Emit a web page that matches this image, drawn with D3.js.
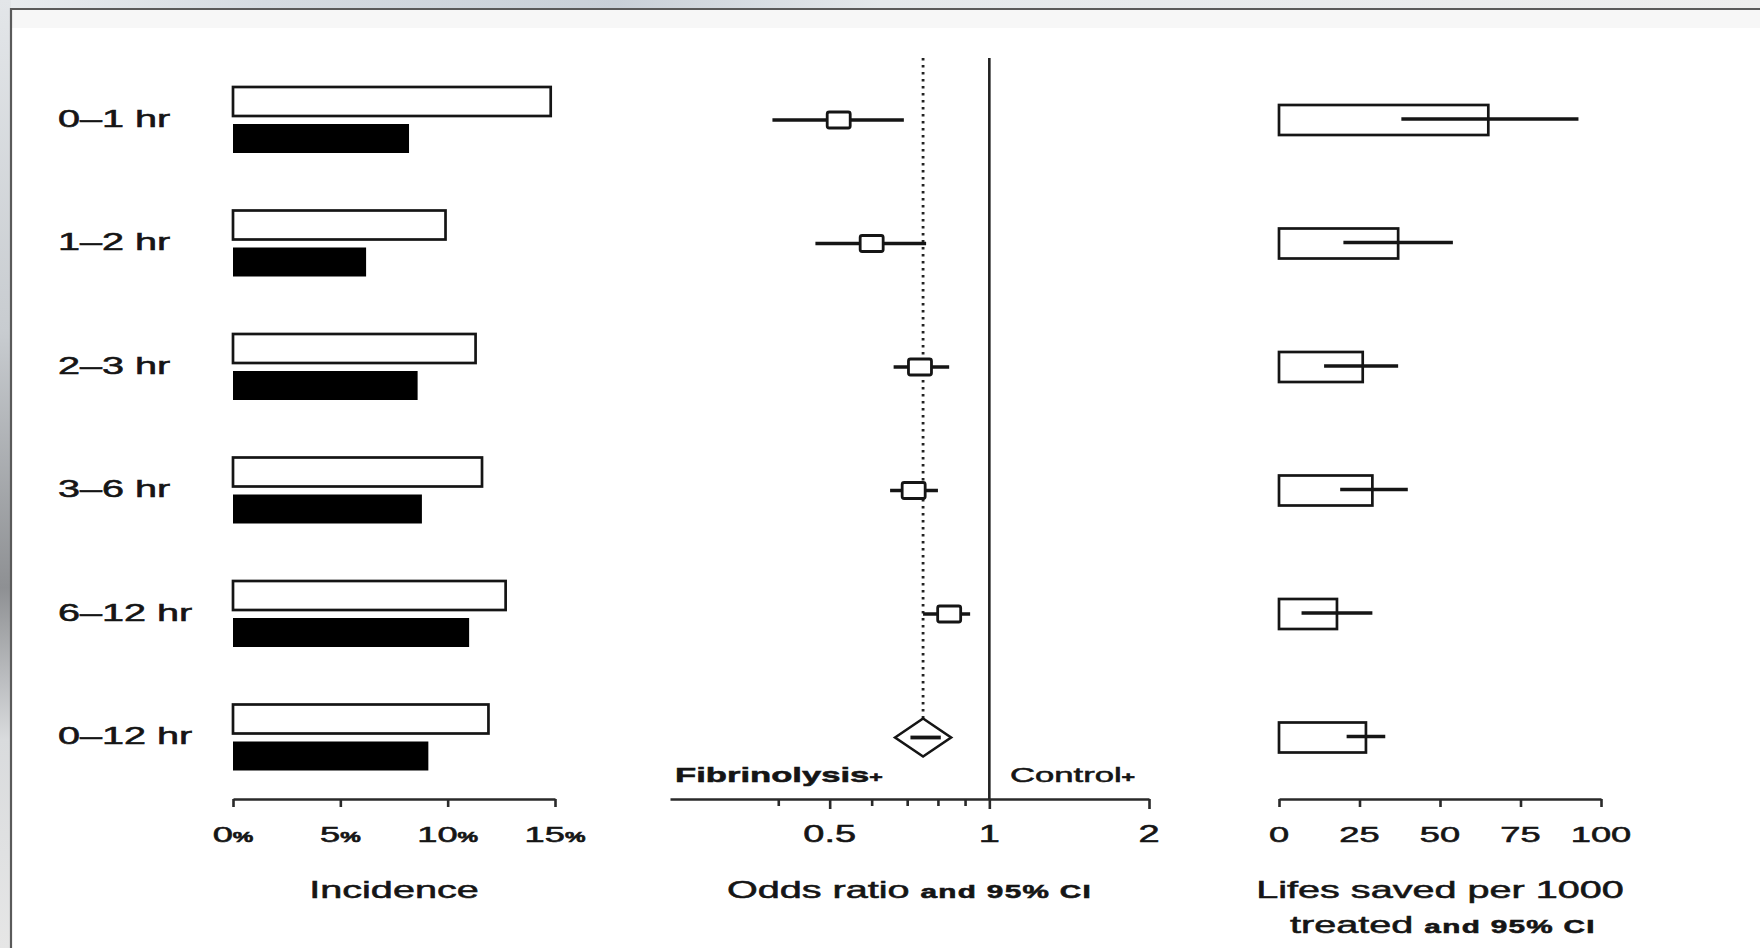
<!DOCTYPE html>
<html>
<head>
<meta charset="utf-8">
<script src="https://cdn.jsdelivr.net/npm/d3@7"></script>
<style>
  html, body { margin: 0; padding: 0; background: #eceff1; }
  svg { display: block; }
  text { font-family: "Liberation Sans", Arial, Helvetica, sans-serif; fill: #151515; stroke: #151515; stroke-width: 0.55px; }
</style>
</head>
<body>
<svg id="chart" width="1760" height="948"></svg>
<script>
// Time from symptom onset to treatment
const categories = ["0–1 hr", "1–2 hr", "2–3 hr", "3–6 hr", "6–12 hr", "0–12 hr"];

// Mortality incidence (%) per group
const incidenceControl      = [14.8, 9.9, 11.3, 11.6, 12.7, 11.9];
const incidenceFibrinolysis = [8.2, 6.2, 8.6, 8.8, 11.0, 9.1];

// Odds ratios with 95% confidence limits (last row = pooled estimate)
const oddsRatio = [0.52, 0.60, 0.74, 0.72, 0.84, 0.75];
const oddsLower = [0.39, 0.47, 0.66, 0.65, 0.75, 0.71];
const oddsUpper = [0.69, 0.76, 0.84, 0.80, 0.92, 0.81];

// Lives saved per 1000 treated with 95% confidence limits
const livesSaved = [65, 37, 26, 29, 18, 27];
const livesLower = [38, 20, 14, 19, 7, 21];
const livesUpper = [93, 54, 37, 40, 29, 33];

// Axis ticks
const incidenceTicks = [0, 5, 10, 15];
const oddsMajorTicks = [0.5, 1, 2];
const oddsMinorTicks = [0.4, 0.6, 0.7, 0.8, 0.9];
const livesTicks = [0, 25, 50, 75, 100];

const SX = 1.65;          // horizontal stretch of the lettering
const INK = "#151515";
const axisY = 799;

const svg = d3.select("#chart");

// ---- backdrop and frame ----
const defs = svg.append("defs");
const gTop = defs.append("linearGradient").attr("id", "topStrip").attr("x1", 0).attr("x2", 1).attr("y1", 0).attr("y2", 0);
gTop.append("stop").attr("offset", "0").attr("stop-color", "#e9ecef");
gTop.append("stop").attr("offset", "0.15").attr("stop-color", "#d5dbe1");
gTop.append("stop").attr("offset", "0.35").attr("stop-color", "#c9d0d8");
gTop.append("stop").attr("offset", "0.5").attr("stop-color", "#e4e8eb");
gTop.append("stop").attr("offset", "1").attr("stop-color", "#eeeeee");
const gLeft = defs.append("linearGradient").attr("id", "leftStrip").attr("x1", 0).attr("x2", 0).attr("y1", 0).attr("y2", 1);
gLeft.append("stop").attr("offset", "0").attr("stop-color", "#e3e6e9");
gLeft.append("stop").attr("offset", "0.35").attr("stop-color", "#c8ccd0");
gLeft.append("stop").attr("offset", "0.62").attr("stop-color", "#8e9093");
gLeft.append("stop").attr("offset", "0.78").attr("stop-color", "#d9dbdd");
gLeft.append("stop").attr("offset", "1").attr("stop-color", "#e6e6e6");

svg.append("rect").attr("x", 0).attr("y", 0).attr("width", 1760).attr("height", 948).attr("fill", "url(#topStrip)");
svg.append("rect").attr("x", 0).attr("y", 0).attr("width", 11).attr("height", 948).attr("fill", "url(#leftStrip)");
svg.append("rect").attr("x", 11).attr("y", 9).attr("width", 1760).attr("height", 960).attr("fill", "#ffffff");
svg.append("rect").attr("x", 12).attr("y", 10).attr("width", 1760).attr("height", 18).attr("fill", "#f7f7f7");
svg.append("path").attr("d", "M11,960 V9 H1760").attr("fill", "none").attr("stroke", "#5a5a5a").attr("stroke-width", 2.2);

// ---- helpers ----
function label(parent, x, y, parts, anchor) {
  const g = parent.append("g").attr("transform", `translate(${x},${y})`);
  const t = g.append("text").attr("transform", `scale(${SX},1)`)
    .attr("text-anchor", anchor || "middle").attr("dy", "0.36em");
  parts.forEach(p => {
    t.append("tspan").text(p.text)
      .attr("font-size", p.size)
      .attr("font-weight", p.weight || "normal")
      .attr("letter-spacing", p.spacing || 0);
  });
  return t;
}

const y = d3.scalePoint().domain(categories).range([120, 737.5]);

// ---- row labels ----
categories.forEach(c => label(svg, 58, y(c) + 1, [{ text: c, size: 24 }], "start"));

// ---- left panel: incidence ----
const xInc = d3.scaleLinear().domain([0, 15]).range([233, 555]);
const left = svg.append("g");
left.selectAll("rect.ctrl").data(categories).join("rect")
  .attr("x", xInc(0)).attr("y", c => y(c) - 33)
  .attr("width", (c, i) => xInc(incidenceControl[i]) - xInc(0)).attr("height", 29)
  .attr("fill", "#fff").attr("stroke", INK).attr("stroke-width", 2.7);
left.selectAll("rect.fib").data(categories).join("rect")
  .attr("x", xInc(0)).attr("y", c => y(c) + 4)
  .attr("width", (c, i) => xInc(incidenceFibrinolysis[i]) - xInc(0)).attr("height", 29)
  .attr("fill", "#000");

const axInc = left.append("g").attr("transform", `translate(0,${axisY})`)
  .call(d3.axisBottom(xInc).tickValues(incidenceTicks).tickSize(8).tickSizeOuter(0).tickFormat(""));
axInc.selectAll("path, line").attr("stroke", "#2a2a2a").attr("stroke-width", 2.6);
incidenceTicks.forEach(v => label(left, xInc(v), 836,
  [{ text: String(v), size: 22 }, { text: "%", size: 14, weight: "bold" }]));
label(left, (xInc(0) + xInc(15)) / 2, 892, [{ text: "Incidence", size: 24 }]);

// ---- middle panel: odds ratios on a log scale ----
const xOr = d3.scaleLog().base(2).domain([0.25, 2]).range([670, 1149]);
const mid = svg.append("g");

const axOr = mid.append("g").attr("transform", `translate(0,${axisY})`)
  .call(d3.axisBottom(xOr).tickValues(oddsMinorTicks.concat(oddsMajorTicks)).tickSize(10).tickSizeOuter(0).tickFormat(""));
axOr.selectAll("path, line").attr("stroke", "#2a2a2a").attr("stroke-width", 2.6);
axOr.selectAll(".tick line").attr("y2", d => oddsMajorTicks.includes(d) ? 10 : 7);
oddsMajorTicks.forEach(v => label(mid, xOr(v), 836, [{ text: String(v), size: 23 }]));

// line of no effect and pooled estimate reference
mid.append("line").attr("x1", xOr(1)).attr("x2", xOr(1)).attr("y1", 58).attr("y2", axisY)
  .attr("stroke", "#222").attr("stroke-width", 2.6);
const pooled = categories.length - 1;
mid.append("line").attr("x1", xOr(oddsRatio[pooled])).attr("x2", xOr(oddsRatio[pooled]))
  .attr("y1", 58).attr("y2", y(categories[pooled]) - 19)
  .attr("stroke", "#222").attr("stroke-width", 2.8).attr("stroke-dasharray", "2.5,4.5");

const trials = categories.slice(0, pooled);
mid.selectAll("line.ci").data(trials).join("line")
  .attr("x1", (c, i) => xOr(oddsLower[i])).attr("x2", (c, i) => xOr(oddsUpper[i]))
  .attr("y1", c => y(c)).attr("y2", c => y(c))
  .attr("stroke", INK).attr("stroke-width", 3.5);
mid.selectAll("rect.est").data(trials).join("rect")
  .attr("x", (c, i) => xOr(oddsRatio[i]) - 11.5).attr("y", c => y(c) - 8)
  .attr("width", 23).attr("height", 16).attr("rx", 2)
  .attr("fill", "#fff").attr("stroke", INK).attr("stroke-width", 2.8);

// pooled diamond
const px = xOr(oddsRatio[pooled]), py = y(categories[pooled]);
mid.append("path")
  .attr("d", `M${px - 28},${py} L${px},${py - 19} L${px + 28},${py} L${px},${py + 19} Z`)
  .attr("fill", "#fff").attr("stroke", INK).attr("stroke-width", 2.6);
mid.append("line").attr("x1", xOr(oddsLower[pooled])).attr("x2", xOr(oddsUpper[pooled]))
  .attr("y1", py).attr("y2", py).attr("stroke", INK).attr("stroke-width", 3.8);

label(mid, 675, 776, [{ text: "Fibrinolysis", size: 21, weight: "bold" }, { text: "+", size: 14, weight: "bold" }], "start");
label(mid, 1010, 776, [{ text: "Control", size: 21 }, { text: "+", size: 14, weight: "bold" }], "start");
label(mid, (xOr(0.25) + xOr(2)) / 2, 892,
  [{ text: "Odds ratio ", size: 24 }, { text: "and 95% CI", size: 18, weight: "bold", spacing: 0.8 }]);

// ---- right panel: lives saved ----
const xLives = d3.scaleLinear().domain([0, 100]).range([1279, 1601]);
const right = svg.append("g");
right.selectAll("rect.saved").data(categories).join("rect")
  .attr("x", xLives(0)).attr("y", c => y(c) - 15)
  .attr("width", (c, i) => xLives(livesSaved[i]) - xLives(0)).attr("height", 30)
  .attr("fill", "#fff").attr("stroke", INK).attr("stroke-width", 2.7);
right.selectAll("line.ci").data(categories).join("line")
  .attr("x1", (c, i) => xLives(livesLower[i])).attr("x2", (c, i) => xLives(livesUpper[i]))
  .attr("y1", c => y(c) - 1).attr("y2", c => y(c) - 1)
  .attr("stroke", INK).attr("stroke-width", 3.5);

const axLives = right.append("g").attr("transform", `translate(0,${axisY})`)
  .call(d3.axisBottom(xLives).tickValues(livesTicks).tickSize(8).tickSizeOuter(0).tickFormat(""));
axLives.selectAll("path, line").attr("stroke", "#2a2a2a").attr("stroke-width", 2.6);
livesTicks.forEach(v => label(right, xLives(v), 836, [{ text: String(v), size: 22 }]));
label(right, (xLives(0) + xLives(100)) / 2, 892, [{ text: "Lifes saved per 1000", size: 24 }]);
label(right, (xLives(0) + xLives(100)) / 2 + 3, 927,
  [{ text: "treated ", size: 24 }, { text: "and 95% CI", size: 18, weight: "bold", spacing: 0.8 }]);
</script>
</body>
</html>
